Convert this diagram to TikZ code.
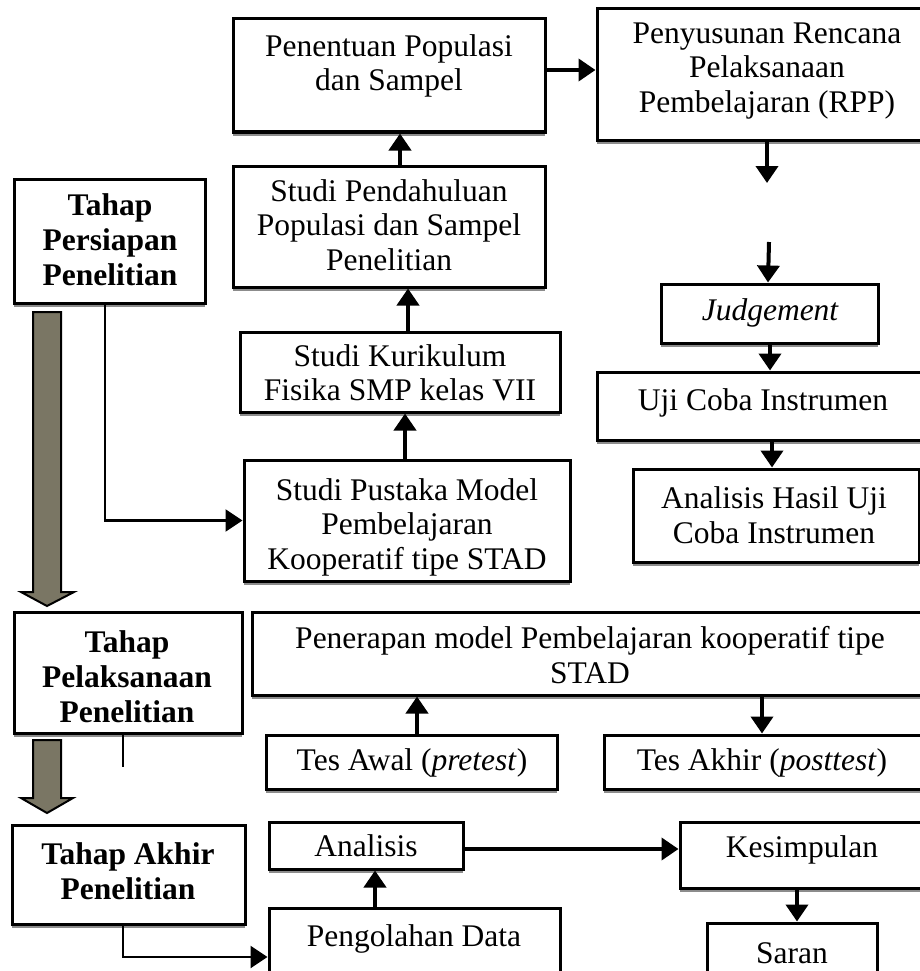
\documentclass[tikz,border=0pt]{standalone}
\usepackage{fontspec}
\setmainfont{Liberation Serif}
\usetikzlibrary{arrows.meta,shadows,fit}
\definecolor{olv}{RGB}{122,118,100}
\definecolor{crm}{RGB}{252,246,222}
\begin{document}
\begin{tikzpicture}[x=1pt,y=-1pt,
  box/.style={draw, line width=3pt, fill=white, inner sep=0pt,
    drop shadow={shadow xshift=0pt, shadow yshift=-4pt, fill=black!45, opacity=1}},
  txt/.style={align=center, inner sep=0pt, font=\fontsize{31.5}{34.5}\selectfont},
  btxt/.style={txt, font=\fontsize{31.5}{35}\selectfont\bfseries},
  arr/.style={line width=4pt, -{Triangle[length=17pt,width=22pt]}},
  elb/.style={line width=2.5pt, -{Triangle[length=17pt,width=22pt]}},
  plain/.style={line width=2.5pt},
  blk/.style={draw, line width=2pt, top color=olv, middle color=crm, bottom color=olv}]
\useasboundingbox (0,0) rectangle (920,971);
\clip (0,0) rectangle (920,971);

% boxes
\node[box, fit={(233,19)(545,132)}] (pen) {};
\node[box, fit={(597,9)(935,140)}] (rpp) {};
\node[box, fit={(233,166)(545,287)}] (pend) {};
\node[box, fit={(14,179)(205,303)}] (per) {};
\node[box, fit={(240,332)(560,412)}] (kur) {};
\node[box, fit={(244,460)(570,581)}] (pus) {};
\node[box, fit={(661,284)(878,343)}] (jud) {};
\node[box, fit={(597,372)(935,440)}] (uji) {};
\node[box, fit={(633,469)(919,562)}] (anh) {};
\node[box, fit={(14,612)(242,733)}] (pel) {};
\node[box, fit={(252,612)(935,695)}] (ter) {};
\node[box, fit={(266,735)(557,789)}] (awal) {};
\node[box, fit={(604,735)(935,789)}] (akhir) {};
\node[box, fit={(12,825)(245,924)}] (tak) {};
\node[box, fit={(269,822)(463,869)}] (anl) {};
\node[box, fit={(269,908)(560,1006)}] (olah) {};
\node[box, fit={(680,822)(935,888)}] (kes) {};
\node[box, fit={(707,923)(877,1000)}] (sar) {};

% texts
\node[txt] at (389,66) {Penentuan Populasi\\dan Sampel};
\node[txt] at (767,71) {Penyusunan Rencana\\Pelaksanaan\\Pembelajaran (RPP)};
\node[txt] at (389,225) {Studi Pendahuluan\\Populasi dan Sampel\\Penelitian};
\node[btxt] at (110,240) {Tahap\\Persiapan\\Penelitian};
\node[txt] at (400,373) {Studi Kurikulum\\Fisika SMP kelas VII};
\node[txt] at (407,527) {Studi Pustaka Model\\Pembelajaran\\Kooperatif tipe STAD};
\node[txt] at (770,313) {\itshape Judgement};
\node[txt] at (763,403) {Uji Coba Instrumen};
\node[txt] at (774,515) {Analisis Hasil Uji\\Coba Instrumen};
\node[btxt] at (127,677) {Tahap\\Pelaksanaan\\Penelitian};
\node[txt] at (590,655) {Penerapan model Pembelajaran kooperatif tipe\\STAD};
\node[txt] at (412,763) {Tes Awal (\textit{pretest})};
\node[txt] at (762,763) {Tes Akhir (\textit{posttest})};
\node[btxt] at (128,871) {Tahap Akhir\\Penelitian};
\node[txt] at (366,846) {Analisis};
\node[txt] at (414,939) {Pengolahan Data};
\node[txt] at (802,850) {Kesimpulan};
\node[txt] at (792,953) {Saran};

% free ends
\coordinate (f1) at (767,183);
\coordinate (f2) at (769,242);
\coordinate (f3) at (123,767);

% connectors
\draw[arr] (pen.east |- 0,70) -- (rpp.west |- 0,70);
\draw[arr] (pend.north -| 400,0) -- (pen.south -| 400,0);
\draw[arr] (kur.north -| 408,0) -- (pend.south -| 408,0);
\draw[arr] (pus.north -| 405,0) -- (kur.south -| 405,0);
\draw[elb] (per.south -| 105,0) |- (pus.west);
\draw[arr] (rpp.south -| 767,0) -- (f1);
\draw[arr] (f2) -- (jud.north -| 768,0);
\draw[arr] (jud.south -| 770,0) -- (uji.north -| 770,0);
\draw[arr] (uji.south -| 772,0) -- (anh.north -| 772,0);
\draw[arr] (awal.north -| 417,0) -- (ter.south -| 417,0);
\draw[arr] (ter.south -| 762,0) -- (akhir.north -| 762,0);
\draw[plain] (pel.south -| 123,0) -- (f3);
\draw[arr] (olah.north -| 375,0) -- (anl.south -| 375,0);
\draw[arr] (anl.east |- 0,849) -- (kes.west |- 0,849);
\draw[arr] (kes.south -| 797,0) -- (sar.north -| 797,0);
\draw[elb] (tak.south -| 123,0) |- (olah.west);

% block arrows
\path[blk] (33,312) -- (61,312) -- (61,592) -- (74,592) -- (47,606) -- (21,592) -- (33,592) -- cycle;
\path[blk] (33,740) -- (61,740) -- (61,798) -- (73,798) -- (47,813) -- (21,798) -- (33,798) -- cycle;
\end{tikzpicture}
\end{document}
